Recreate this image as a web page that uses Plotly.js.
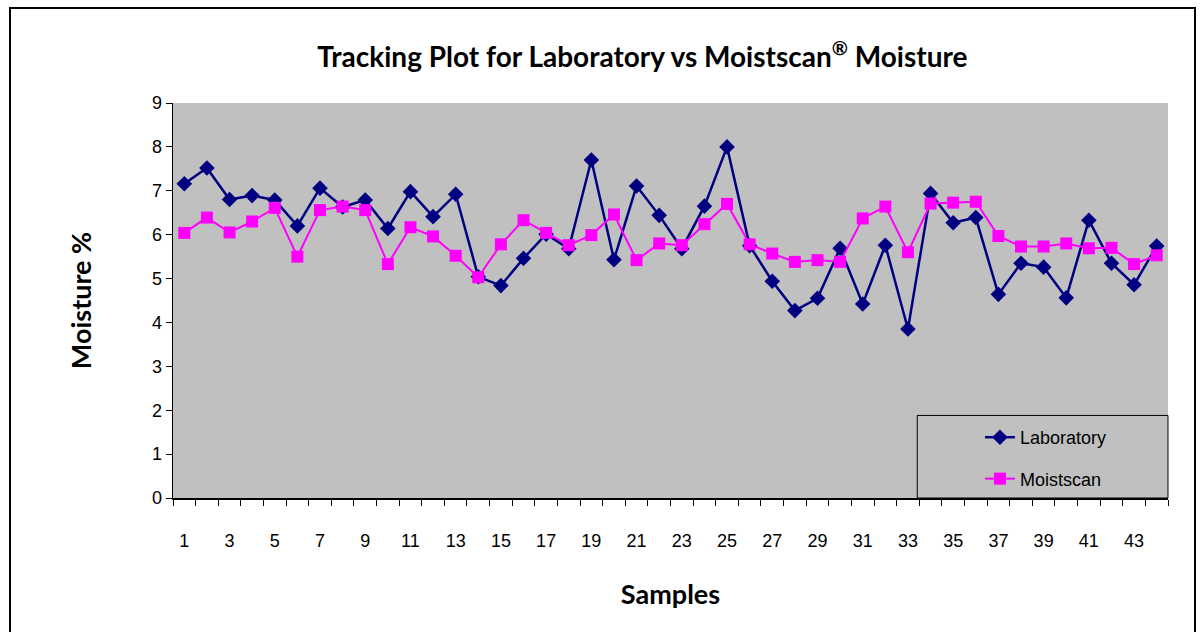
<!DOCTYPE html>
<html>
<head>
<meta charset="utf-8">
<script src="https://cdn.plot.ly/plotly-3.0.1.min.js"></script>
<style>
html,body{margin:0;padding:0;background:#fff;}
#chart{width:1203px;height:632px;}
#frame{position:absolute;left:9px;top:7px;width:1183px;height:640px;border:2px solid #000;pointer-events:none;}
</style>
</head>
<body>
<div id="chart"></div>
<div id="frame"></div>
<script>
const samples = [1,2,3,4,5,6,7,8,9,10,11,12,13,14,15,16,17,18,19,20,21,22,23,24,25,26,27,28,29,30,31,32,33,34,35,36,37,38,39,40,41,42,43,44];
const laboratory = [7.16,7.52,6.80,6.89,6.79,6.20,7.06,6.63,6.79,6.14,6.98,6.41,6.92,5.04,4.84,5.46,6.01,5.68,7.70,5.43,7.11,6.44,5.68,6.65,8.00,5.75,4.94,4.27,4.55,5.69,4.42,5.76,3.85,6.94,6.27,6.39,4.64,5.35,5.26,4.56,6.33,5.35,4.86,5.74];
const moistscan = [6.04,6.39,6.05,6.30,6.61,5.50,6.56,6.64,6.56,5.33,6.17,5.96,5.52,5.03,5.78,6.33,6.04,5.76,5.99,6.46,5.42,5.80,5.76,6.24,6.70,5.78,5.57,5.38,5.42,5.38,6.37,6.64,5.60,6.71,6.73,6.75,5.97,5.73,5.73,5.80,5.69,5.70,5.33,5.53];
const xTickLabels = ["1","3","5","7","9","11","13","15","17","19","21","23","25","27","29","31","33","35","37","39","41","43"];
const xTickVals = xTickLabels.map(Number);
const yTicks = [0,1,2,3,4,5,6,7,8,9];

const traces = [
  {x: samples, y: laboratory, name: 'Laboratory', legendgroup: 'lab', type: 'scatter', mode: 'lines+markers',
   line: {color: '#000080', width: 2.5}, marker: {symbol: 'diamond', size: 12, color: '#000080'}},
  {x: samples, y: moistscan, name: 'Moistscan', legendgroup: 'ms', type: 'scatter', mode: 'lines+markers',
   line: {color: '#FF00FF', width: 2}, marker: {symbol: 'square', size: 12, color: '#FF00FF'}}
];

const layout = {
  width: 1203, height: 632,
  margin: {l: 173, r: 35, t: 103, b: 134},
  paper_bgcolor: '#ffffff',
  plot_bgcolor: '#C0C0C0',
  showlegend: true,
  title: {text: '<b>Tracking Plot for Laboratory vs Moistscan<sup>®</sup> Moisture</b>', x: 0.534, xanchor: 'center', y: 0.91, yanchor: 'middle',
          font: {family: 'Lato, sans-serif', size: 28, color: '#000'}},
  xaxis: {
    range: [0.5, 44.5], tickvals: xTickVals, ticktext: xTickLabels,
    ticks: '', showgrid: false, zeroline: false,
    showline: true, linecolor: '#000', linewidth: 1.5,
    ticklabelstandoff: 26,
    tickfont: {family: 'Liberation Sans, Arial, sans-serif', size: 18, color: '#000'},
    minor: {tick0: 0.5, dtick: 1, ticks: 'outside', ticklen: 6, tickcolor: '#000', tickwidth: 1, showgrid: false},
    title: {text: '<b>Samples</b>', standoff: 35, font: {family: 'Lato, sans-serif', size: 27, color: '#000'}}
  },
  yaxis: {
    range: [0, 9], tickvals: yTicks, ticks: 'outside', ticklen: 6, tickcolor: '#000',
    showgrid: false, zeroline: false, showline: true, linecolor: '#000', linewidth: 1.5,
    tickfont: {family: 'Liberation Sans, Arial, sans-serif', size: 18, color: '#000'},
    title: {text: '<b>Moisture %</b>', standoff: 52, font: {family: 'Lato, sans-serif', size: 27, color: '#000'}}
  },
  legend: {x: 0.811, xanchor: 'left', y: 0.2, yanchor: 'top', bgcolor: 'rgba(0,0,0,0)', borderwidth: 0,
           tracegroupgap: 15, itemwidth: 30,
           font: {family: 'Liberation Sans, Arial, sans-serif', size: 18, color: '#000'}},
  shapes: [
    {type: 'rect', xref: 'paper', yref: 'paper', x0: 0.748, x1: 1, y0: 0, y1: 0.209,
     fillcolor: '#C0C0C0', line: {color: '#000', width: 1}, layer: 'above'}
  ]
};

Plotly.newPlot('chart', traces, layout, {displayModeBar: false, staticPlot: true});
</script>
</body>
</html>
